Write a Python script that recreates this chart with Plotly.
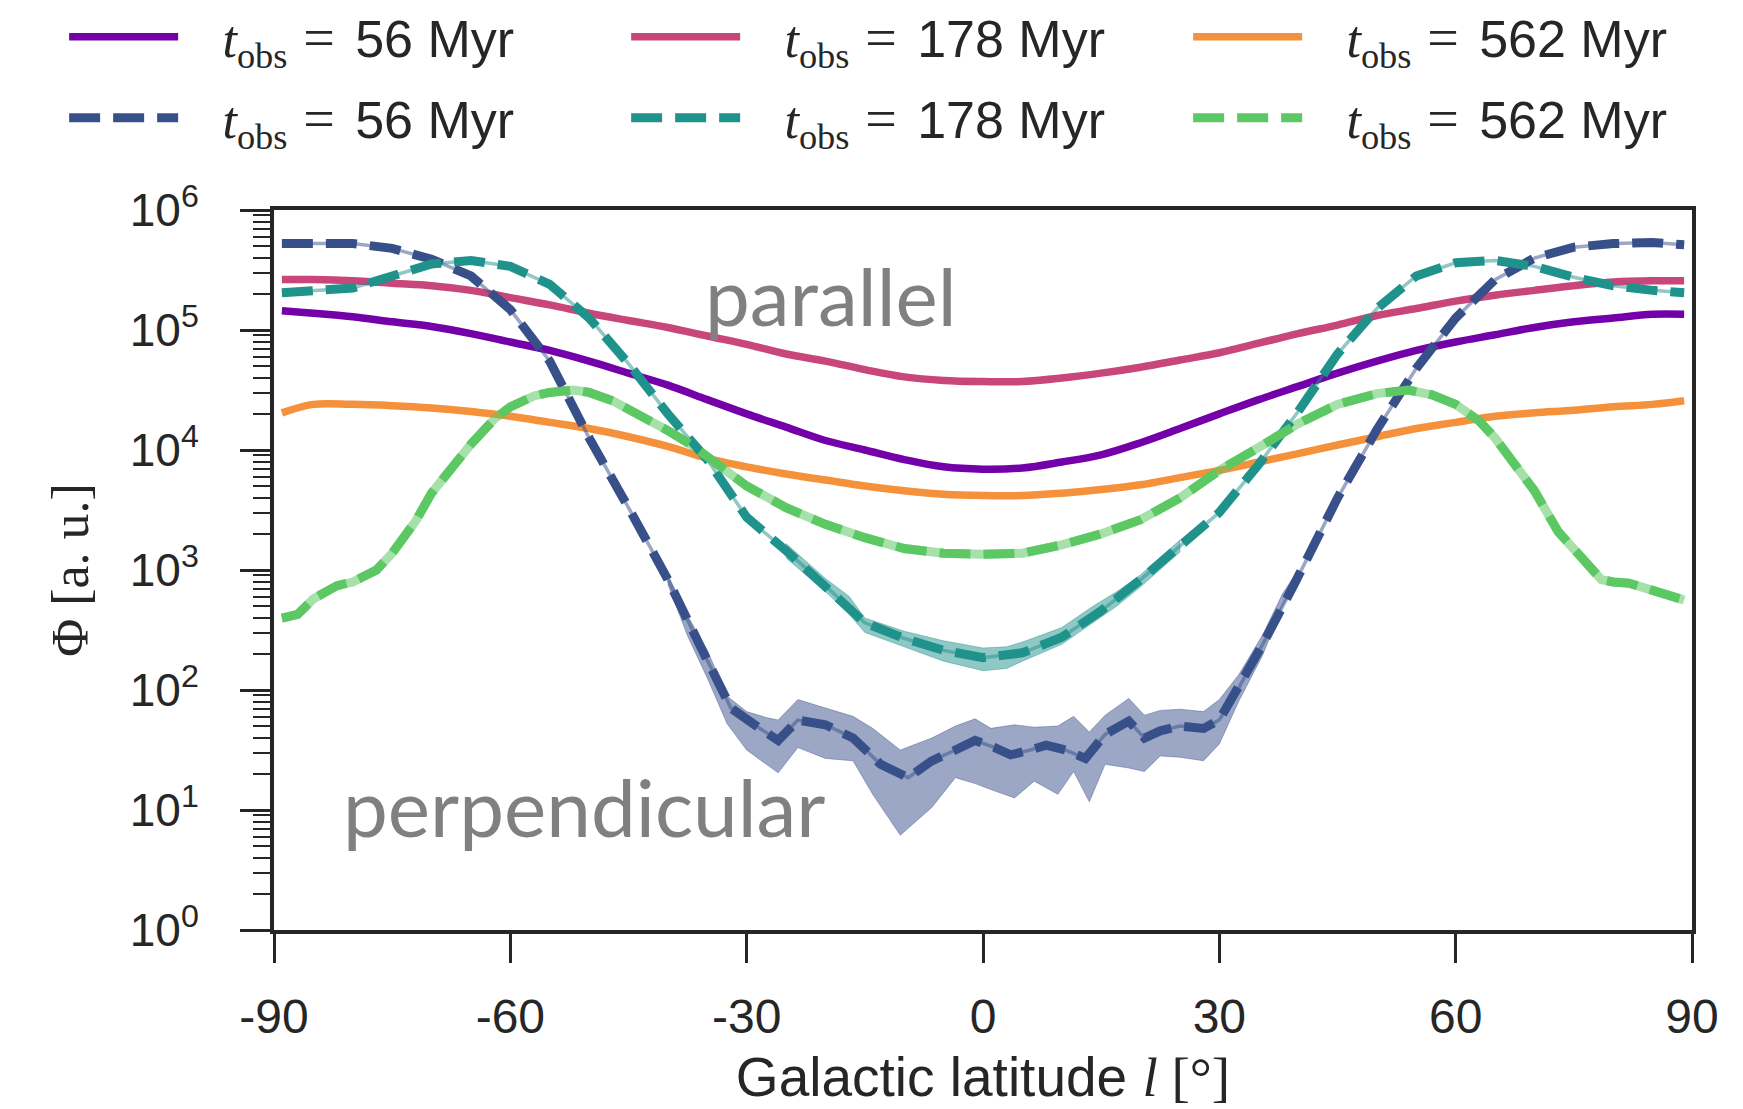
import plotly.graph_objects as go

# ---------------- data ----------------
LAT = [-89, -85, -80, -75, -70, -65, -60, -55, -50, -45, -40, -35, -30, -25, -20, -15, -10, -5, 0,
       5, 10, 15, 20, 25, 30, 35, 40, 45, 50, 55, 60, 65, 70, 75, 80, 85, 89]

# parallel, solid lines
PAR_56 = [1.45e5, 1.38e5, 1.29e5, 1.17e5, 1.07e5, 9.33e4, 7.94e4, 6.76e4, 5.50e4, 4.37e4, 3.47e4,
          2.63e4, 2.00e4, 1.55e4, 1.20e4, 1.00e4, 8.32e3, 7.24e3, 6.92e3, 7.08e3, 7.94e3, 9.12e3,
          1.15e4, 1.51e4, 2.00e4, 2.63e4, 3.39e4, 4.37e4, 5.50e4, 6.76e4, 7.94e4, 9.12e4, 1.05e5,
          1.17e5, 1.26e5, 1.35e5, 1.35e5]
PAR_178 = [2.63e5, 2.63e5, 2.57e5, 2.45e5, 2.34e5, 2.14e5, 1.86e5, 1.62e5, 1.38e5, 1.20e5, 1.05e5,
           8.91e4, 7.59e4, 6.31e4, 5.50e4, 4.68e4, 4.07e4, 3.80e4, 3.72e4, 3.72e4, 3.98e4, 4.37e4,
           4.90e4, 5.62e4, 6.46e4, 7.76e4, 9.33e4, 1.10e5, 1.32e5, 1.51e5, 1.74e5, 1.95e5, 2.14e5,
           2.34e5, 2.51e5, 2.57e5, 2.57e5]
PAR_562 = [2.04e4, 2.40e4, 2.40e4, 2.34e4, 2.24e4, 2.09e4, 1.91e4, 1.70e4, 1.51e4, 1.29e4, 1.07e4,
           8.51e3, 7.24e3, 6.31e3, 5.62e3, 5.01e3, 4.57e3, 4.27e3, 4.17e3, 4.17e3, 4.37e3, 4.68e3,
           5.13e3, 5.89e3, 6.76e3, 7.94e3, 9.33e3, 1.10e4, 1.29e4, 1.51e4, 1.70e4, 1.91e4, 2.04e4,
           2.14e4, 2.29e4, 2.40e4, 2.57e4]

# perpendicular, dashed lines
PERP_178 = [2.04e5, 2.14e5, 2.24e5, 2.82e5, 3.55e5, 3.80e5, 3.39e5, 2.40e5, 1.26e5, 5.25e4, 2.00e4,
            8.32e3, 2.75e3, 1.45e3, 7.41e2, 3.63e2, 2.69e2, 2.14e2, 1.86e2, 2.04e2, 2.75e2, 4.57e2,
            8.32e2, 1.58e3, 3.02e3, 7.59e3, 2.09e4, 6.31e4, 1.51e5, 2.82e5, 3.63e5, 3.80e5, 3.39e5,
            2.75e5, 2.34e5, 2.14e5, 2.04e5]

LAT_56 = [-89, -85, -80, -75, -70, -65, -60, -55, -50, -45,
          -40, -36, -32, -29, -26, -23.5, -20, -16.5, -13, -9.5,
          -6.5, -3.5, -1, 1.5, 3.5, 6, 8, 10.5, 13, 15.5,
          18.5, 20.5, 22.5, 25, 28, 30, 32.5, 35.5, 39.5, 45,
          50, 55, 60, 65, 70, 75, 80, 85, 89]
PERP_56 = [5.25e5, 5.25e5, 5.25e5, 4.79e5, 3.89e5, 2.82e5, 1.48e5, 5.50e4, 1.26e4, 3.31e3,
           8.32e2, 2.40e2, 70.8, 51.3, 38.0, 56.2, 51.3, 39.8, 24.0, 18.6,
           25.7, 31.6, 38.0, 33.1, 28.8, 31.6, 34.7, 31.6, 26.9, 42.7,
           55.0, 39.8, 45.7, 50.1, 47.9, 56.2, 105, 240, 759, 3.98e3,
           1.48e4, 4.79e4, 1.26e5, 2.63e5, 3.98e5, 4.90e5, 5.25e5, 5.37e5, 5.13e5]

LAT_562 = [-89, -87, -85, -82, -80, -77, -75, -72, -70, -67,
           -65, -62, -60, -57, -55, -52, -50, -47, -45, -42,
           -40, -37, -35, -30, -25, -20, -15, -10, -5, 0,
           5, 10, 15, 20, 25, 30, 35, 40, 45, 50,
           54, 57, 60, 63, 65, 68, 70, 73, 75, 77,
           78.5, 80, 82, 85, 89]
PERP_562 = [3.98e2, 4.27e2, 5.75e2, 7.41e2, 7.94e2, 1.00e3, 1.38e3, 2.57e3, 4.37e3, 7.94e3,
            1.12e4, 1.82e4, 2.29e4, 2.82e4, 3.02e4, 3.16e4, 3.02e4, 2.57e4, 2.19e4, 1.74e4,
            1.45e4, 1.10e4, 8.91e3, 5.01e3, 3.31e3, 2.40e3, 1.86e3, 1.51e3, 1.38e3, 1.35e3,
            1.38e3, 1.62e3, 2.00e3, 2.63e3, 3.98e3, 6.76e3, 1.05e4, 1.66e4, 2.40e4, 2.95e4,
            3.16e4, 2.88e4, 2.40e4, 1.74e4, 1.26e4, 7.08e3, 4.57e3, 2.09e3, 1.51e3, 1.07e3,
            8.32e2, 7.94e2, 7.76e2, 6.76e2, 5.62e2]

# uncertainty bands
LAT_BAND_56 = [-40, -37.5, -35, -32.5, -30, -27.5, -26, -23.5, -20, -16.5, -14, -10.5, -6.5, -3.5,
               -1, 1, 4, 6.5, 9.5, 11.5, 13.5, 15.5, 18.5, 20.5, 22.5, 25, 28, 30, 32.5, 35.5, 38, 40]
BAND_56_LO = [7.59e2, 2.82e2, 1.26e2, 52.5, 31.6, 24.0, 20.4, 33.1, 26.9, 25.7, 13.5, 6.17, 10.5, 18.6,
              16.6, 14.8, 12.6, 17.4, 13.5, 20.9, 11.7, 24.0, 22.4, 20.9, 28.2, 27.5, 25.7, 35.5, 81.3,
              195, 501, 851]
BAND_56_HI = [9.12e2, 4.17e2, 2.14e2, 89.1, 66.1, 58.9, 56.2, 83.2, 70.8, 60.3, 47.9, 31.6, 39.8, 50.1,
              57.5, 47.9, 51.3, 49.0, 50.1, 60.3, 44.7, 61.7, 85.1, 61.7, 67.6, 69.2, 66.1, 83.2, 135,
              288, 631, 1.00e3]
LAT_BAND_178 = [-25, -20, -17, -15, -10, -5, 0, 3, 5, 10, 14, 17, 20, 25]
BAND_178_LO = [1.26e3, 6.61e2, 4.27e2, 3.02e2, 2.29e2, 1.74e2, 1.45e2, 1.51e2, 1.74e2, 2.40e2, 3.63e2,
               5.01e2, 7.24e2, 1.41e3]
BAND_178_HI = [1.66e3, 8.51e2, 6.03e2, 3.98e2, 3.09e2, 2.57e2, 2.24e2, 2.29e2, 2.51e2, 3.31e2, 5.01e2,
               6.61e2, 9.12e2, 1.78e3]

AGES = ["56 Myr", "178 Myr", "562 Myr"]
X_TICKS = [-90, -60, -30, 0, 30, 60, 90]
X_TICK_LABELS = ["-90", "-60", "-30", "0", "30", "60", "90"]
Y_TICKS = [1, 10, 100, 1e3, 1e4, 1e5, 1e6]
Y_TICK_LABELS = ["10<sup>0</sup>", "10<sup>1</sup>", "10<sup>2</sup>", "10<sup>3</sup>",
                 "10<sup>4</sup>", "10<sup>5</sup>", "10<sup>6</sup>"]

# ---------------- styling ----------------
SOLID_COLORS = ["#7300a8", "#c8467a", "#f5913a"]
DASH_COLORS = ["#38508a", "#1f928b", "#5cc863"]
DASH_LIGHT = ["rgba(56,80,138,0.5)", "rgba(31,146,139,0.5)", "rgba(92,200,99,0.55)"]
INK = "#262626"
SERIF = "Liberation Serif"
SANS = "Liberation Sans"
DASH = "31px,13px"


def legend_label(age):
    return ("\u00a0\u00a0\u2009<span style=\"font-family:%s\"><i>t</i><sub>obs</sub></span>"
            "<span style=\"font-family:%s;font-size:56px\">\u2009\u200a=\u2009\u200a</span>\u200a%s"
            % (SERIF, SERIF, age))


fig = go.Figure()

# solid (parallel)
for ys, col, age in zip([PAR_56, PAR_178, PAR_562], SOLID_COLORS, AGES):
    fig.add_trace(go.Scatter(x=LAT, y=ys, mode="lines", line=dict(color=col, width=7.5, shape="spline"),
                             name=legend_label(age), legend="legend", hoverinfo="skip"))

# bands
fig.add_trace(go.Scatter(x=LAT_BAND_56 + LAT_BAND_56[::-1], y=BAND_56_HI + BAND_56_LO[::-1],
                         fill="toself", fillcolor="rgba(56,80,138,0.5)",
                         line=dict(width=0.8, color="rgba(56,80,138,0.5)"),
                         mode="lines", showlegend=False, hoverinfo="skip"))
fig.add_trace(go.Scatter(x=LAT_BAND_178 + LAT_BAND_178[::-1], y=BAND_178_HI + BAND_178_LO[::-1],
                         fill="toself", fillcolor="rgba(31,146,139,0.5)",
                         line=dict(width=0.8, color="rgba(31,146,139,0.5)"),
                         mode="lines", showlegend=False, hoverinfo="skip"))

# light under-lines of the dashed curves
for xs, ys, col, w in zip([LAT_56, LAT, LAT_562], [PERP_56, PERP_178, PERP_562], DASH_LIGHT, [3.5, 3.5, 9]):
    fig.add_trace(go.Scatter(x=xs, y=ys, mode="lines", line=dict(color=col, width=w),
                             showlegend=False, hoverinfo="skip"))

# dashed (perpendicular)
for xs, ys, col, age in zip([LAT_56, LAT, LAT_562], [PERP_56, PERP_178, PERP_562], DASH_COLORS, AGES):
    fig.add_trace(go.Scatter(x=xs, y=ys, mode="lines", line=dict(color=col, width=9, dash=DASH),
                             name=legend_label(age), legend="legend2", hoverinfo="skip"))

fig.add_annotation(x=-19.3, y=5.29, xref="x", yref="y", text="parallel", showarrow=False,
                   font=dict(family="Lato", size=80, color="#808080"))
fig.add_annotation(x=-50.6, y=1.03, xref="x", yref="y", text="perpendicular", showarrow=False,
                   font=dict(family="Lato", size=80, color="#808080"))

legend_common = dict(orientation="h", xref="paper", yref="paper", xanchor="left",
                     yanchor="middle", itemwidth=109, entrywidth=438,
                     font=dict(family=SANS, size=52, color=INK), bgcolor="rgba(0,0,0,0)",
                     itemclick=False, itemdoubleclick=False)

fig.update_layout(
    width=1743, height=1109,
    margin=dict(l=266, r=59, t=202, b=187, autoexpand=False),
    paper_bgcolor="white", plot_bgcolor="white",
    showlegend=True,
    legend=dict(x=-0.148, y=1.2403, **legend_common),
    legend2=dict(x=-0.148, y=1.1277, **legend_common),
    font=dict(family=SANS, color=INK),
    xaxis=dict(range=[-90, 90], tickmode="array", tickvals=X_TICKS, ticktext=X_TICK_LABELS,
               ticks="outside", ticklen=29, tickwidth=2.5, tickcolor=INK,
               showline=True, linewidth=4, linecolor=INK, mirror=True,
               showgrid=False, zeroline=False, ticklabelstandoff=12,
               tickfont=dict(family=SANS, size=48, color=INK),
               title=dict(text="Galactic latitude <span style=\"font-family:%s\"><i>l</i> [°]</span>" % SERIF,
                          font=dict(family=SANS, size=55, color=INK), standoff=17)),
    yaxis=dict(type="log", range=[0, 6], tickmode="array", tickvals=Y_TICKS, ticktext=Y_TICK_LABELS,
               ticks="outside", ticklen=30, tickwidth=3, tickcolor=INK,
               minor=dict(ticks="outside", ticklen=17, tickwidth=2, tickcolor=INK, dtick="D1", showgrid=False),
               showline=True, linewidth=4, linecolor=INK, mirror=True,
               showgrid=False, zeroline=False, ticklabelstandoff=32,
               tickfont=dict(family=SANS, size=46, color=INK),
               title=dict(text="Φ [a. u.]", font=dict(family=SERIF, size=52, color=INK), standoff=26)),
)

fig.write_html("out.html")
